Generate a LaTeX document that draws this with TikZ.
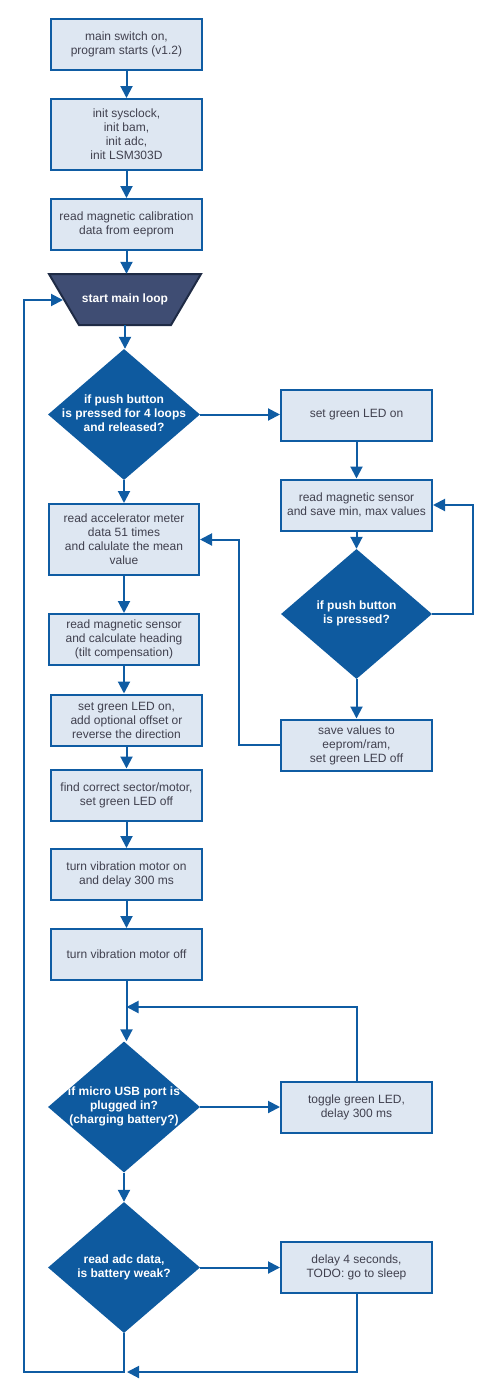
\documentclass[tikz,border=0pt]{standalone}
\usepackage{fontspec}
\setmainfont{Liberation Sans}
\usetikzlibrary{shapes.geometric,arrows.meta,calc}
\definecolor{lineblue}{HTML}{0F5CA3}
\definecolor{boxfill}{HTML}{DEE7F2}
\definecolor{dfill}{HTML}{0E5A9F}
\definecolor{tfill}{HTML}{3F4D73}
\definecolor{tborder}{HTML}{1F2B45}
\definecolor{txt}{HTML}{40404E}
\newcommand{\dtext}[1]{\makebox[0pt]{\begin{tabular}{@{}c@{}}#1\end{tabular}}}
\begin{document}
\begin{tikzpicture}[x=1pt,y=-1pt,
 font=\fontsize{12}{14}\selectfont,
 box/.style={draw=lineblue, line width=2pt, fill=boxfill, text=txt, minimum width=151pt, minimum height=51pt, inner sep=0pt, align=center},
 dec/.style={diamond, fill=dfill, draw=none, minimum width=152pt, minimum height=131pt, inner sep=0pt, text=white, font=\fontsize{12}{14}\selectfont\bfseries},
 arr/.style={draw=lineblue, line width=2pt, -{Triangle[length=12pt,width=12pt]}},
 ln/.style={draw=lineblue, line width=2pt}]
\useasboundingbox (0,0) rectangle (496,1397);

% start main loop (trapezoid)
\filldraw[fill=tfill, draw=tborder, line width=2pt, line join=miter] (49,274) -- (201,274) -- (171,325) -- (79,325) -- cycle;
\node[minimum width=152pt, minimum height=51pt, inner sep=0pt, text=white,
      font=\fontsize{12}{14}\selectfont\bfseries] (tr) at (125,299.5) {start main loop};

% left column
\node[box] (b1) at (126.5,44.5) {main switch on,\\program starts (v1.2)};
\node[box, minimum height=71pt] (b2) at (126.5,134.5) {init sysclock,\\init bam,\\init adc,\\init LSM303D};
\node[box] (b3) at (126.5,224.5) {read magnetic calibration\\data from eeprom};
\node[dec] (d1) at (124,414.5) {\dtext{if push button\\is pressed for 4 loops\\and released?}};
\node[box, minimum width=150pt, minimum height=71pt] (a1) at (124,539.5) {read accelerator meter\\data 51 times\\and calulate the mean\\value};
\node[box, minimum width=150pt] (a2) at (124,639.5) {read magnetic sensor\\and calculate heading\\(tilt compensation)};
\node[box] (a3) at (126.5,720) {set green LED on,\\add optional offset or\\reverse the direction};
\node[box] (a4) at (126.5,795) {find correct sector/motor,\\set green LED off};
\node[box] (a5) at (126.5,874.5) {turn vibration motor on\\and delay 300 ms};
\node[box] (a6) at (126.5,954.5) {turn vibration motor off};
\node[dec] (d3) at (124,1107) {\dtext{if micro USB port is\\plugged in?\\(charging battery?)}};
\node[dec] (d4) at (124,1267.5) {\dtext{read adc data,\\is battery weak?}};

% right column
\node[box] (g1) at (356.5,415) {set green LED on};
\node[box] (g2) at (356.5,505) {read magnetic sensor\\and save min, max values};
\node[dec, minimum width=151pt, minimum height=130pt] (d2) at (356.5,614) {\dtext{if push button\\is pressed?}};
\node[box] (g3) at (356.5,745) {save values to\\eeprom/ram,\\set green LED off};
\node[box] (t1) at (356.5,1107.5) {toggle green LED,\\delay 300 ms};
\node[box] (t2) at (356.5,1267.5) {delay 4 seconds,\\TODO: go to sleep};

\coordinate (m1) at (126.5,1007);
\coordinate (mb) at (124,1372);
\coordinate (mbt) at (127,1372);
\coordinate (lb) at (24,1372);
\coordinate (lt) at (24,300);
\coordinate (trw) at (63,300);

% connectors
\draw[arr] (b1.south) -- (b1.south |- b2.north);
\draw[arr] (b2.south) -- (b2.south |- b3.north);
\draw[arr] (b3.south) -- (b3.south |- tr.north);
\draw[arr] (tr.south) -- (tr.south |- d1.north);
\draw[arr] (d1.east) -- (d1.east -| g1.west);
\draw[arr] (d1.south) -- (d1.south |- a1.north);
\draw[arr] (g1.south) -- (g1.south |- g2.north);
\draw[arr] (g2.south) -- (g2.south |- d2.north);
\draw[arr] (d2.east) -- ++(41,0) |- (g2.east);
\draw[arr] (d2.south) -- (d2.south |- g3.north);
\draw[arr] (g3.west) -- ++(-41,0) |- (a1.east);
\draw[arr] (a1.south) -- (a1.south |- a2.north);
\draw[arr] (a2.south) -- (a2.south |- a3.north);
\draw[arr] (a3.south) -- (a3.south |- a4.north);
\draw[arr] (a4.south) -- (a4.south |- a5.north);
\draw[arr] (a5.south) -- (a5.south |- a6.north);
\draw[arr] (a6.south) -- (a6.south |- d3.north);
\draw[arr] (t1.north) |- (m1);
\draw[arr] (d3.east) -- (d3.east -| t1.west);
\draw[arr] (d3.south) -- (d3.south |- d4.north);
\draw[arr] (d4.east) -- (d4.east -| t2.west);
\draw[arr] (t2.south) |- (mbt);
\draw[arr] (d4.south) -- (mb) -- (lb) -- (lt) -- (trw);
\end{tikzpicture}
\end{document}
